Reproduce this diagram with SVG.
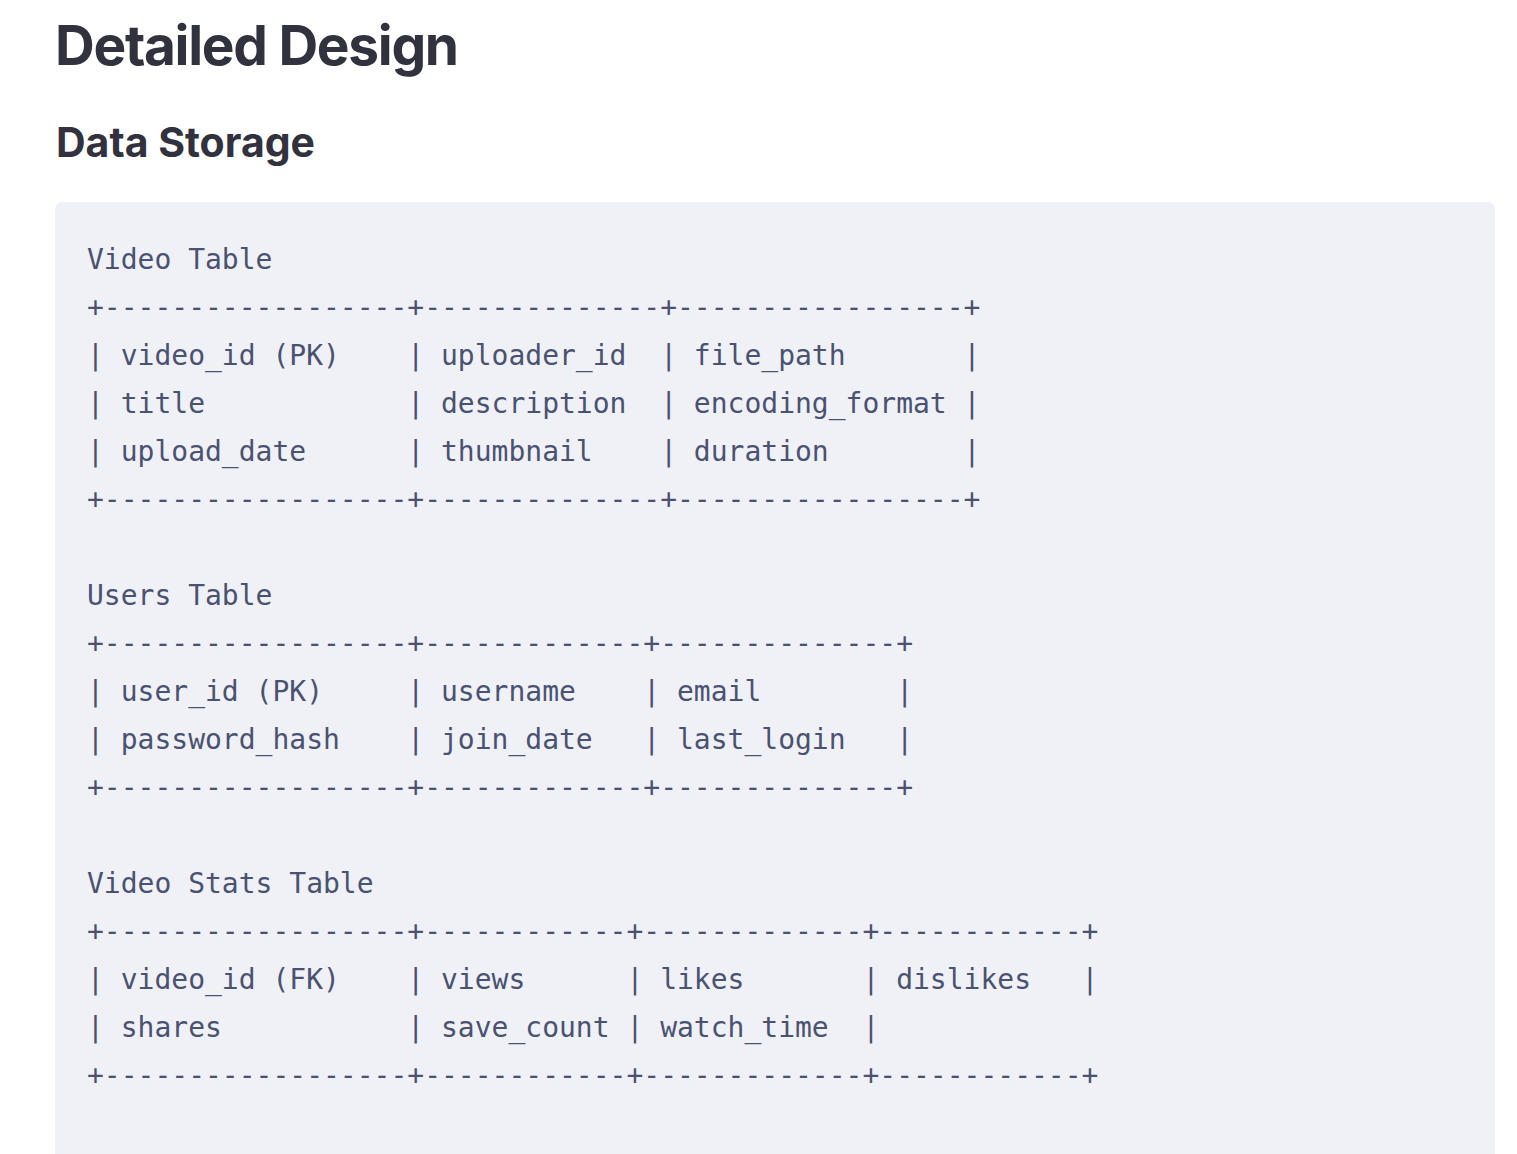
<svg xmlns="http://www.w3.org/2000/svg" width="1517" height="1154" viewBox="0 0 1517 1154">
<style>
.h1{font-family:Inter,"Liberation Sans",sans-serif;font-weight:700;font-size:55px;letter-spacing:-1.3px;fill:#32323f}
.h2{font-family:Inter,"Liberation Sans",sans-serif;font-weight:700;font-size:41px;fill:#32323f}
.code{font-family:"DejaVu Sans Mono","Liberation Mono",monospace;font-size:28px;fill:#4a5271;white-space:pre}
</style>
<rect x="0" y="0" width="1517" height="1154" fill="#ffffff"/>
<g id="heading">
<text class="h1" x="55" y="65">Detailed Design</text>
<text class="h2" x="56" y="157">Data Storage</text>
</g>
<g id="code-block">
<rect x="55" y="202" width="1440" height="980" rx="7" fill="#f0f1f7"/>
<g id="video-table">
<text class="code" x="87" y="269" xml:space="preserve">Video Table</text>
<text class="code" x="87" y="317" xml:space="preserve">+------------------+--------------+-----------------+</text>
<text class="code" x="87" y="365" xml:space="preserve">| video_id (PK)    | uploader_id  | file_path       |</text>
<text class="code" x="87" y="413" xml:space="preserve">| title            | description  | encoding_format |</text>
<text class="code" x="87" y="461" xml:space="preserve">| upload_date      | thumbnail    | duration        |</text>
<text class="code" x="87" y="509" xml:space="preserve">+------------------+--------------+-----------------+</text>
</g>
<g id="users-table">
<text class="code" x="87" y="605" xml:space="preserve">Users Table</text>
<text class="code" x="87" y="653" xml:space="preserve">+------------------+-------------+--------------+</text>
<text class="code" x="87" y="701" xml:space="preserve">| user_id (PK)     | username    | email        |</text>
<text class="code" x="87" y="749" xml:space="preserve">| password_hash    | join_date   | last_login   |</text>
<text class="code" x="87" y="797" xml:space="preserve">+------------------+-------------+--------------+</text>
</g>
<g id="video-stats-table">
<text class="code" x="87" y="893" xml:space="preserve">Video Stats Table</text>
<text class="code" x="87" y="941" xml:space="preserve">+------------------+------------+-------------+------------+</text>
<text class="code" x="87" y="989" xml:space="preserve">| video_id (FK)    | views      | likes       | dislikes   |</text>
<text class="code" x="87" y="1037" xml:space="preserve">| shares           | save_count | watch_time  |</text>
<text class="code" x="87" y="1085" xml:space="preserve">+------------------+------------+-------------+------------+</text>
</g>
</g>
<g id="connectors"/>
</svg>
